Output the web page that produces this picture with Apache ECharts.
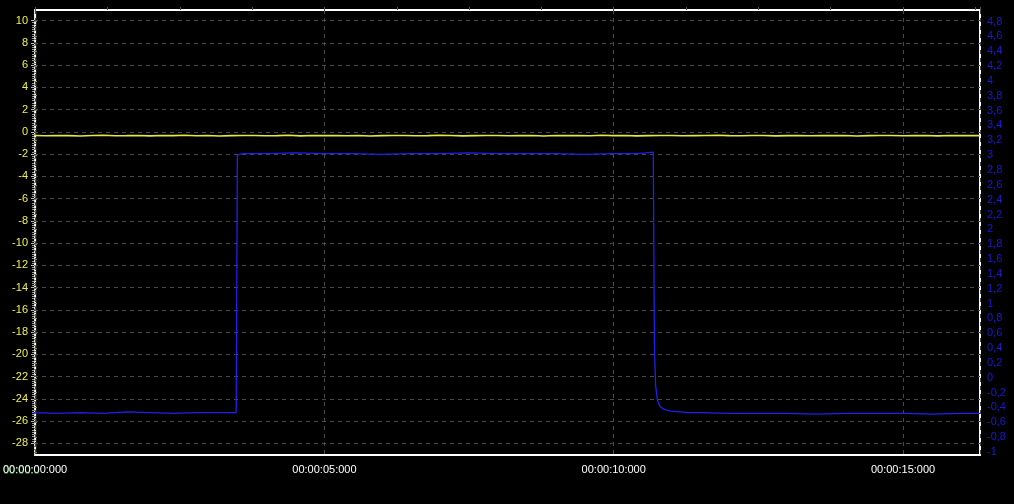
<!DOCTYPE html>
<html>
<head>
<meta charset="utf-8">
<script src="https://cdn.jsdelivr.net/npm/echarts@6/dist/echarts.min.js"></script>
<style>
  html, body { margin: 0; padding: 0; background: #000; }
  #chart { width: 1014px; height: 504px; }
</style>
</head>
<body>
<div id="chart"></div>
<script>
// ---- Data ----
const timeTicksMajor = [0, 5, 10, 15];            // seconds with labels
const leftAxisRange = [-28, 10];                  // left (yellow) scale labels
const rightAxisRange = [-1, 4.8];                 // right (blue) scale labels

const yellowTimes = [0,0.2,0.4,0.6,0.8,1.0,1.2,1.4,1.6,1.8,
  2.0,2.2,2.4,2.6,2.8,3.0,3.2,3.4,3.6,3.8,
  4.0,4.2,4.4,4.6,4.8,5.0,5.2,5.4,5.6,5.8,
  6.0,6.2,6.4,6.6,6.8,7.0,7.2,7.4,7.6,7.8,
  8.0,8.2,8.4,8.6,8.8,9.0,9.2,9.4,9.6,9.8,
  10.0,10.2,10.4,10.6,10.8,11.0,11.2,11.4,11.6,11.8,
  12.0,12.2,12.4,12.6,12.8,13.0,13.2,13.4,13.6,13.8,
  14.0,14.2,14.4,14.6,14.8,15.0,15.2,15.4,15.6,15.8,
  16.0,16.2,16.33];
const yellowValues = [-0.34,-0.36,-0.33,-0.35,-0.38,-0.34,-0.32,-0.36,-0.35,-0.33,
  -0.37,-0.34,-0.35,-0.31,-0.36,-0.34,-0.38,-0.35,-0.33,-0.34,
  -0.36,-0.35,-0.32,-0.37,-0.34,-0.35,-0.33,-0.36,-0.34,-0.38,
  -0.35,-0.33,-0.34,-0.36,-0.35,-0.32,-0.34,-0.37,-0.35,-0.34,
  -0.33,-0.36,-0.35,-0.34,-0.38,-0.33,-0.35,-0.34,-0.36,-0.32,
  -0.35,-0.34,-0.37,-0.35,-0.33,-0.34,-0.36,-0.35,-0.34,-0.31,
  -0.35,-0.36,-0.34,-0.33,-0.37,-0.35,-0.34,-0.36,-0.33,-0.35,
  -0.34,-0.38,-0.35,-0.33,-0.34,-0.36,-0.35,-0.34,-0.37,-0.33,
  -0.35,-0.34,-0.35];

const blueTimes = [0,0.4,0.8,1.2,1.6,2.0,2.4,2.8,3.2,3.49,
  3.50,3.51,3.6,4.0,4.5,5.0,5.5,6.0,6.5,7.0,
  7.5,8.0,8.5,9.0,9.5,10.0,10.4,10.56,10.58,10.69,
  10.71,10.73,10.76,10.8,10.86,10.93,11.0,11.15,11.3,11.5,
  12.0,12.5,13.0,13.5,14.0,14.5,15.0,15.5,16.0,16.33];
const blueValues = [-0.47,-0.48,-0.47,-0.48,-0.46,-0.47,-0.48,-0.47,-0.47,-0.47,
  1.20,3.00,3.02,3.02,3.03,3.02,3.02,3.01,3.02,3.02,
  3.03,3.02,3.02,3.02,3.01,3.02,3.02,3.03,3.04,3.04,
  0.40,-0.10,-0.30,-0.38,-0.42,-0.44,-0.45,-0.46,-0.47,-0.47,
  -0.48,-0.48,-0.48,-0.49,-0.48,-0.48,-0.48,-0.49,-0.48,-0.48];

const timeMax = 16.33;

// ---- Build ----
const FONT = "'Liberation Sans', Arial, sans-serif";
const pad2 = n => (n < 10 ? '0' : '') + n;
const fmtTime = v => {
  const s = Math.round(v);
  return timeTicksMajor.indexOf(s) >= 0 && Math.abs(v - s) < 1e-6 ? '00:00:' + pad2(s) + ':000' : '';
};
const fmtRight = v => String(Math.round(v * 10) / 10).replace('.', ',');

const chart = echarts.init(document.getElementById('chart'), null, { renderer: 'canvas' });

const gridLine = { show: true, lineStyle: { color: '#4a4a4a', type: [4, 4], width: 1 } };
const hiddenAxis = { show: false, axisLine: { show: false }, axisTick: { show: false }, axisLabel: { show: false }, splitLine: { show: false } };

chart.setOption({
  animation: false,
  backgroundColor: '#000000',
  grid: [
    { left: 34, right: 34, top: 20.5, bottom: 60.7, show: false },   // yellow / left scale
    { left: 34, right: 34, top: 21.5, bottom: 52, show: false },     // blue / right scale
    { left: 34, right: 34, top: 10, bottom: 49, show: true, borderColor: '#ffffff', borderWidth: 2, backgroundColor: 'transparent' } // frame
  ],
  xAxis: [
    Object.assign({ gridIndex: 0, type: 'value', min: 0, max: timeMax }, hiddenAxis),
    Object.assign({ gridIndex: 1, type: 'value', min: 0, max: timeMax }, hiddenAxis),
    { gridIndex: 2, type: 'value', min: 0, max: timeMax, interval: 5,
      axisLine: { show: false },
      axisTick: { show: false },
      splitLine: gridLine,
      axisLabel: { color: '#ffffff', fontFamily: FONT, fontSize: 11, margin: 9,
        formatter: fmtTime, showMaxLabel: false } },
    { gridIndex: 2, type: 'value', min: 0, max: timeMax, interval: 1.25,
      axisLine: { show: false },
      axisTick: { show: true, length: 3, lineStyle: { color: '#555555' } },
      axisLabel: { show: false },
      splitLine: { show: false } }
  ],
  yAxis: [
    { gridIndex: 0, type: 'value', position: 'left',
      min: leftAxisRange[0], max: leftAxisRange[1], interval: 2,
      axisLine: { show: false },
      axisTick: { show: true, length: 3, lineStyle: { color: '#bbbbbb' } },
      minorTick: { show: true, splitNumber: 10, length: 2, lineStyle: { color: '#999999' } },
      splitLine: gridLine,
      axisLabel: { color: '#f0f04a', fontFamily: FONT, fontSize: 11, margin: 6 } },
    { gridIndex: 1, type: 'value', position: 'right',
      min: rightAxisRange[0], max: rightAxisRange[1], interval: 0.2,
      axisLine: { show: false },
      axisTick: { show: true, length: 3, lineStyle: { color: '#8a8a40' } },
      minorTick: { show: true, splitNumber: 5, length: 2, lineStyle: { color: '#777755' } },
      splitLine: { show: false },
      axisLabel: { color: '#1a1ad0', fontFamily: FONT, fontSize: 11, margin: 7, formatter: fmtRight } },
    Object.assign({ gridIndex: 2, type: 'value', min: 0, max: 1 }, hiddenAxis)
  ],
  series: [
    { type: 'line', xAxisIndex: 0, yAxisIndex: 0, showSymbol: false, symbol: 'none', z: 5,
      lineStyle: { color: '#e8e840', width: 1.6 },
      data: yellowTimes.map((t, i) => [t, yellowValues[i]]) },
    { type: 'line', xAxisIndex: 1, yAxisIndex: 1, showSymbol: false, symbol: 'none', z: 4,
      lineStyle: { color: '#2020f0', width: 1.3 },
      data: blueTimes.map((t, i) => [t, blueValues[i]]) }
  ],
  graphic: [
    { type: 'text', left: 3, top: 465, z: -1,
      style: { text: '00:00:0', fill: '#2a8a2a', font: '11px ' + FONT } }
  ]
});
</script>
</body>
</html>
